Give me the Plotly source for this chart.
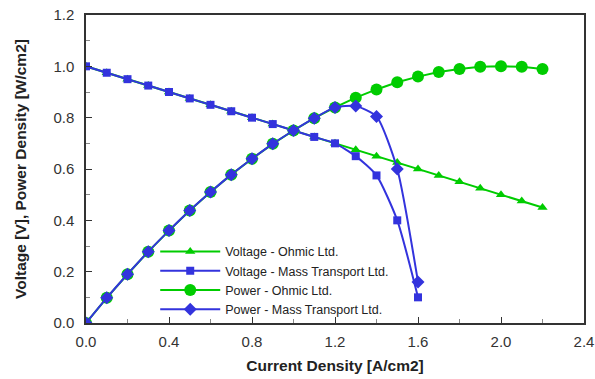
import plotly.graph_objects as go

x_ohm = [0.0, 0.1, 0.2, 0.3, 0.4, 0.5, 0.6, 0.7, 0.8, 0.9, 1.0, 1.1,
         1.2, 1.3, 1.4, 1.5, 1.6, 1.7, 1.8, 1.9, 2.0, 2.1, 2.2]
v_ohm = [1.0, 0.975, 0.95, 0.925, 0.9, 0.875, 0.85, 0.825, 0.8, 0.775, 0.75, 0.725,
         0.70, 0.675, 0.65, 0.625, 0.60, 0.575, 0.55, 0.525, 0.50, 0.475, 0.45]
p_ohm = [0.0, 0.098, 0.19, 0.278, 0.36, 0.438, 0.51, 0.578, 0.64, 0.698, 0.75, 0.798,
         0.84, 0.878, 0.91, 0.938, 0.96, 0.978, 0.99, 0.998, 1.0, 0.998, 0.99]

x_mt = [0.0, 0.1, 0.2, 0.3, 0.4, 0.5, 0.6, 0.7, 0.8, 0.9, 1.0, 1.1,
        1.2, 1.3, 1.4, 1.5, 1.6]
v_mt = [1.0, 0.975, 0.95, 0.925, 0.9, 0.875, 0.85, 0.825, 0.8, 0.775, 0.75, 0.725,
        0.70, 0.65, 0.575, 0.40, 0.10]
p_mt = [0.0, 0.098, 0.19, 0.278, 0.36, 0.438, 0.51, 0.578, 0.64, 0.698, 0.75, 0.798,
        0.84, 0.845, 0.805, 0.60, 0.16]

x_ticks = [0, 0.4, 0.8, 1.2, 1.6, 2.0, 2.4]
x_ticklabels = ["0.0", "0.4", "0.8", "1.2", "1.6", "2.0", "2.4"]
y_ticks = [0, 0.2, 0.4, 0.6, 0.8, 1.0, 1.2]
y_ticklabels = ["0.0", "0.2", "0.4", "0.6", "0.8", "1.0", "1.2"]

GREEN = "#00CC00"
BLUE = "#3333DD"
FONT = "Liberation Sans, Arial"

fig = go.Figure()
fig.add_trace(go.Scatter(x=x_ohm, y=v_ohm, mode="lines+markers", name="Voltage - Ohmic Ltd.",
                         line=dict(color=GREEN, width=2),
                         marker=dict(symbol="triangle-up", size=9, color=GREEN)))
fig.add_trace(go.Scatter(x=x_mt, y=v_mt, mode="lines+markers", name="Voltage - Mass Transport Ltd.",
                         line=dict(color=BLUE, width=2, shape="spline", smoothing=0.6),
                         marker=dict(symbol="square", size=8, color=BLUE)))
fig.add_trace(go.Scatter(x=x_ohm, y=p_ohm, mode="lines+markers", name="Power - Ohmic Ltd.",
                         line=dict(color=GREEN, width=2),
                         marker=dict(symbol="circle", size=12, color=GREEN)))
fig.add_trace(go.Scatter(x=x_mt, y=p_mt, mode="lines+markers", name="Power - Mass Transport Ltd.",
                         line=dict(color=BLUE, width=2, shape="spline", smoothing=0.6),
                         marker=dict(symbol="diamond", size=10, color=BLUE)))

axis_common = dict(
    showline=True, linecolor="#333333", linewidth=1.5, mirror=True,
    ticks="inside", ticklen=6, tickcolor="#333333", tickwidth=1,
    showgrid=False, zeroline=False, automargin=False,
    tickfont=dict(family=FONT, size=15, color="#333333"),
)

fig.update_xaxes(range=[0, 2.4], tickvals=x_ticks, ticktext=x_ticklabels,
                 ticklabelstandoff=4,
                 minor=dict(ticks="inside", ticklen=4, dtick=0.2, tickcolor="#888888"),
                 title=dict(text="<b>Current Density [A/cm2]</b>", standoff=11,
                            font=dict(family=FONT, size=15.5, color="#222222")),
                 **axis_common)
fig.update_yaxes(range=[0, 1.2], tickvals=y_ticks, ticktext=y_ticklabels,
                 ticklabelstandoff=7,
                 minor=dict(ticks="inside", ticklen=4, dtick=0.1, tickcolor="#888888"),
                 title=dict(text="<b>Voltage [V], Power Density [W/cm2]</b>", standoff=23,
                            font=dict(family=FONT, size=15.5, color="#222222")),
                 **axis_common)

fig.update_layout(
    width=595, height=379,
    margin=dict(l=86, r=11, t=15, b=56),
    paper_bgcolor="white", plot_bgcolor="white",
    font=dict(family=FONT, color="#222222"),
    legend=dict(x=0.139, y=0.28, xanchor="left", yanchor="top",
                bgcolor="rgba(0,0,0,0)", borderwidth=0,
                font=dict(size=12.5, color="#222222"), tracegroupgap=0,
                itemwidth=60),
    showlegend=True,
)

# remove the page's default 8px body margin so the figure sits at the window origin
fig.write_html("out.html", config={"displayModeBar": False},
               post_script="document.body.style.margin='0';")
